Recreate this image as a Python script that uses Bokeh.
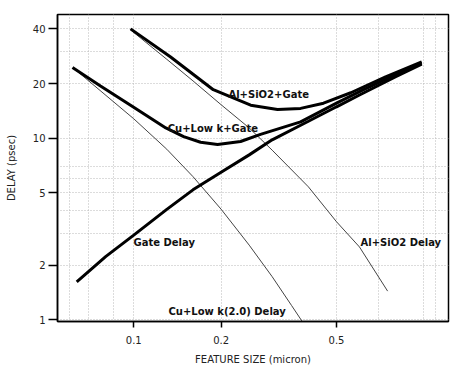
from bokeh.plotting import figure
from bokeh.models import FixedTicker, ColumnDataSource, Range1d
from bokeh.core.properties import value
from bokeh.embed import file_html
from bokeh.resources import INLINE

# ---- data (feature size in micron, delay in psec) ----
gate_x = [0.0636, 0.08, 0.1, 0.13, 0.16, 0.2, 0.25, 0.3, 0.4, 0.5, 0.6, 0.8, 0.983]
gate_y = [1.62, 2.23, 2.93, 4.06, 5.2, 6.5, 8.1, 9.8, 12.4, 14.9, 17.3, 21.8, 25.6]

al_gate_x = [0.0975, 0.134, 0.188, 0.253, 0.313, 0.376, 0.451, 0.56, 0.738, 0.983]
al_gate_y = [40.0, 28.0, 18.5, 15.2, 14.4, 14.6, 15.6, 17.8, 21.8, 26.3]

cu_gate_x = [0.0615, 0.0768, 0.0975, 0.129, 0.1486, 0.170, 0.1945, 0.2335, 0.2735, 0.376, 0.50, 0.62, 0.78, 0.983]
cu_gate_y = [24.5, 19.4, 15.2, 11.4, 10.2, 9.5, 9.25, 9.6, 10.5, 12.3, 15.6, 18.5, 22.0, 25.9]

al_x = [0.0975, 0.13, 0.16, 0.2, 0.25, 0.3, 0.4, 0.5, 0.6, 0.75]
al_y = [39.5, 27.2, 20.7, 15.3, 11.4, 8.6, 5.4, 3.47, 2.52, 1.44]

cu_x = [0.063, 0.1, 0.13, 0.16, 0.2, 0.25, 0.3, 0.35, 0.391]
cu_y = [23.8, 12.8, 8.7, 6.15, 4.07, 2.58, 1.73, 1.20, 0.92]

label_text = ["Al+SiO2+Gate", "Cu+Low k+Gate", "Gate Delay", "Al+SiO2 Delay", "Cu+Low k(2.0) Delay"]
label_x = [0.212, 0.131, 0.0998, 0.605, 0.1318]
label_y = [17.4, 11.3, 2.66, 2.66, 1.11]

x_ticks = [0.1, 0.2, 0.5]
x_tick_labels = ["0.1", "0.2", "0.5"]
x_minor = [0.06, 0.07, 0.085, 0.7, 1.0, 1.1]
y_ticks = [1, 2, 5, 10, 20, 40]
y_tick_labels = ["1", "2", "5", "10", "20", "40"]
y_minor = [3, 4, 6, 7, 30]

p = figure(width=451, height=371, x_axis_type="log", y_axis_type="log",
           x_range=Range1d(0.0546, 1.216), y_range=Range1d(0.98, 48),
           output_backend="svg", toolbar_location=None,
           min_border_left=57, min_border_right=3, min_border_top=14, min_border_bottom=50)

p.background_fill_color = "white"
p.border_fill_color = "white"
p.outline_line_color = "black"
p.outline_line_width = 1.5

p.xaxis.ticker = FixedTicker(ticks=x_ticks, minor_ticks=x_minor)
p.yaxis.ticker = FixedTicker(ticks=y_ticks, minor_ticks=y_minor)
p.xaxis.major_label_overrides = dict(zip(x_ticks, x_tick_labels))
p.yaxis.major_label_overrides = dict(zip(y_ticks, y_tick_labels))

for g in (p.xgrid, p.ygrid):
    g.grid_line_color = "#b8b8b8"
    g.grid_line_dash = "1 2"
    g.minor_grid_line_color = "#b8b8b8"
    g.minor_grid_line_dash = "1 2"

p.axis.minor_tick_line_color = None
p.axis.major_tick_in = 0
p.axis.axis_line_color = "black"
p.axis.axis_line_width = 1.5
p.axis.major_tick_line_color = "black"
p.axis.major_tick_line_width = 1.5
p.yaxis.major_tick_out = 9
p.xaxis.major_tick_out = 6
p.axis.major_label_text_font = "DejaVu Sans"
p.axis.major_label_text_font_size = "10px"
p.axis.major_label_text_color = "#222"
p.yaxis.major_label_standoff = 3
p.xaxis.major_label_standoff = 8

p.xaxis.axis_label = "FEATURE SIZE (micron)"
p.yaxis.axis_label = "DELAY (psec)"
p.axis.axis_label_text_font = "DejaVu Sans"
p.axis.axis_label_text_font_size = "10px"
p.axis.axis_label_text_font_style = "normal"
p.axis.axis_label_text_color = "#222"
p.yaxis.axis_label_standoff = 13
p.xaxis.axis_label_standoff = 7

# thin interconnect-only delay lines
p.line(al_x, al_y, line_width=1, color="#444444")
p.line(cu_x, cu_y, line_width=1, color="#444444")
# thick lines
p.line(gate_x, gate_y, line_width=3, color="black")
p.line(al_gate_x, al_gate_y, line_width=3, color="black")
p.line(cu_gate_x, cu_gate_y, line_width=3, color="black")

src = ColumnDataSource(dict(x=label_x, y=label_y, text=label_text))
p.text(x="x", y="y", text="text", source=src, text_font=value("DejaVu Sans"),
       text_font_style="bold", text_font_size="10px", text_baseline="middle",
       text_align="left", text_color="#111111")

open("out.html", "w").write(file_html(p, INLINE))
